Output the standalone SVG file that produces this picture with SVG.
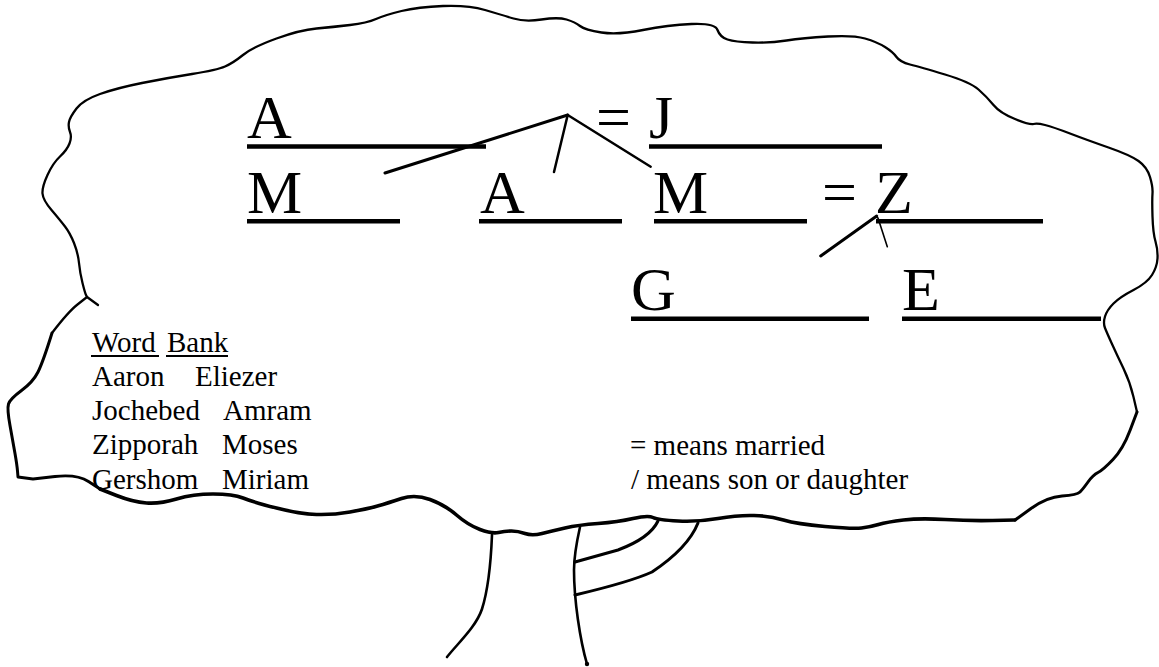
<svg xmlns="http://www.w3.org/2000/svg" width="1159" height="667" viewBox="0 0 1159 667">
  <style>
    .big { font-family: "Liberation Serif", "Times New Roman", serif; font-size: 62px; fill: #000; }
    .small { font-family: "Liberation Serif", "Times New Roman", serif; font-size: 29px; fill: #000; }
    .blank { stroke: #000; stroke-width: 4.4; fill: none; }
    .ink { stroke: #000; fill: none; stroke-linecap: round; stroke-linejoin: round; }
    .uline { stroke: #000; stroke-width: 1.8; }
  </style>
  <rect width="1159" height="667" fill="#fff"/>

  <!-- tree crown outline -->
  <g id="crown">
    <path class="ink" stroke-width="2.3" d="M52,333 Q68,312 77.5,304.5 L87,297 L86,295 Q85,293 82.5,283 Q80,273 79,263 Q78,253 74,243 Q70,233 65,226.5 Q60,220 51.5,210 Q43,200 42.5,193.5 Q42,187 47.5,175 Q53,163 60,156.5 Q67,150 69.5,143.5 Q72,137 70,132 Q68,127 69,122 Q70,117 76.5,108.5 Q83,100 100,94 Q117,88 142,83 Q167,78 192,74 Q217,70 225,66.5 Q233,63 243,55 Q253,47 276.5,38.5 Q300,30 316.5,28.5 Q333,27 350,25 Q367,23 376,19 Q385,15 401.5,11 Q418,7 443,6 Q468,5 485,10 Q502,15 513.5,18.5 Q525,22 541.5,19.5 Q558,17 566.5,19.5 Q575,22 580,26 Q585,30 601.5,32.5 Q618,35 643,30 Q668,25 691.5,24 Q715,23 717.5,30 Q720,37 727.5,39.5 Q735,42 752.5,42.5 Q770,43 786.5,40.5 Q803,38 828,36.5 Q853,35 865,38.5 Q877,42 885,47 Q893,52 896.5,57 Q900,62 910,64.5 Q920,67 945,74.5 Q970,82 978.5,89.5 Q987,97 993.5,105 Q1000,113 1015,119 Q1030,125 1033.5,124 Q1037,123 1045,125 Q1053,127 1070,133.5 Q1087,140 1108.5,147.5 Q1130,155 1138.5,161 Q1147,167 1150,177 Q1153,187 1152.5,193.5 Q1152,200 1152.5,216.5 Q1153,233 1155.5,241.5 Q1158,250 1157.5,258.5 Q1157,267 1152,275 Q1147,283 1133.5,290 Q1120,297 1113.5,303.5 Q1107,310 1105,316.5 Q1103,323 1105,328 Q1107,333 1112,344 Q1117,355 1123.5,368.5 Q1130,382 1133.5,397 L1137,412"/>
    <path class="ink" stroke-width="2.3" d="M87,297 L98,305"/>
    <path class="ink" stroke-width="3" d="M52,333 Q43,362 38,372 Q33,382 21.5,390.5 Q10,399 8.5,404 Q7,409 10,425.5 Q13,442 15,453.5 Q17,465 17.5,471 L18,477 L33,479 L55,476.5 Q77,474 88.5,481.5 L100,489"/>
    <path class="ink" stroke-width="3.6" d="M100,489 L116.5,495.5 Q133,502 146.5,503 Q160,504 176.5,499 Q193,494 213,494 Q233,494 243,498 Q253,502 276.5,508 Q300,514 316.5,514.5 Q333,515 350,512 Q367,509 377.5,506 Q388,503 401.5,498.5 Q415,494 430,499.5 Q445,505 456.5,515 Q468,525 480,529.5 Q492,534 498.5,532.5 Q505,531 511.5,531 Q518,531 525,533.5 Q532,536 542,533.5 Q552,531 565,528 Q578,525 598,523.5 Q618,522 633,518.5 Q648,515 653,517.5 Q658,520 678,521 Q698,522 718,518.5 Q738,515 754,515.5 Q770,516 783.5,520 Q797,524 825,526.5 Q853,529 861.5,528 Q870,527 878.5,524.5 Q887,522 903.5,520 Q920,518 945,519.5 Q970,521 992.5,520.5 L1015,520"/>
    <path class="ink" stroke-width="3" d="M1015,520 L1031,508.5 Q1047,497 1062,496 Q1077,495 1080,492 Q1083,489 1088,482 Q1093,475 1098,472.5 Q1103,470 1113,459.5 Q1123,449 1130,430.5 L1137,412"/>
  </g>

  <!-- trunk and limbs -->
  <g id="trunk">
    <path class="ink" stroke-width="2.6" d="M492,535 C491,560 488,590 482,609 C476,627 458,643 447,657"/>
    <path class="ink" stroke-width="2.6" d="M580,527 C576,545 574,555 574,570 C574,600 580,640 587,664"/>
    <circle cx="587" cy="664" r="2.2" fill="#000"/>
    <path class="ink" stroke-width="3" d="M658,521 Q650,538 618,550 L575,562"/>
    <path class="ink" stroke-width="3" d="M698,523 Q688,548 652,572 Q630,582 575,595"/>
  </g>

  <!-- generation 1 -->
  <g id="node-amram">
    <text class="big" x="247" y="138">A</text>
    <line class="blank" x1="247" y1="146.5" x2="486" y2="146.5"/>
  </g>
  <g id="node-jochebed">
    <text class="big" x="596" y="138">=</text>
    <text class="big" x="649" y="138">J</text>
    <line class="blank" x1="649" y1="146.5" x2="882" y2="146.5"/>
  </g>

  <!-- generation 2 -->
  <g id="node-miriam">
    <text class="big" x="247" y="213">M</text>
    <line class="blank" x1="247" y1="221.3" x2="400" y2="221.3"/>
  </g>
  <g id="node-aaron">
    <text class="big" x="480" y="213">A</text>
    <line class="blank" x1="479" y1="221.3" x2="622" y2="221.3"/>
  </g>
  <g id="node-moses">
    <text class="big" x="653" y="213">M</text>
    <line class="blank" x1="654" y1="221.3" x2="807" y2="221.3"/>
  </g>
  <g id="node-zipporah">
    <text class="big" x="822" y="213">=</text>
    <text class="big" x="875" y="213">Z</text>
    <line class="blank" x1="876" y1="221.3" x2="1043" y2="221.3"/>
  </g>

  <!-- generation 3 -->
  <g id="node-gershom">
    <text class="big" x="631" y="310">G</text>
    <line class="blank" x1="631" y1="318.7" x2="869" y2="318.7"/>
  </g>
  <g id="node-eliezer">
    <text class="big" x="902" y="310">E</text>
    <line class="blank" x1="902" y1="318.7" x2="1101" y2="318.7"/>
  </g>

  <!-- descent strokes -->
  <g id="connectors">
    <line class="ink" stroke-width="3" x1="567.7" y1="115" x2="385" y2="173"/>
    <line class="ink" stroke-width="2.5" x1="567.7" y1="115" x2="554" y2="172"/>
    <line class="ink" stroke-width="2.5" x1="567.7" y1="115" x2="650.7" y2="166.7"/>
    <line class="ink" stroke-width="3" x1="876.7" y1="216" x2="820.7" y2="256"/>
    <path class="ink" stroke-width="1.6" d="M875.5,216.5 L878,218 L887.3,246.7"/>
  </g>

  <!-- word bank -->
  <g id="word-bank">
    <text class="small" x="92" y="352">Word</text>
    <line class="uline" x1="91" y1="356" x2="159" y2="356"/>
    <text class="small" x="167" y="352">Bank</text>
    <line class="uline" x1="166" y1="356" x2="228" y2="356"/>
    <text class="small" x="92" y="385.5">Aaron</text>
    <text class="small" x="195" y="385.5">Eliezer</text>
    <text class="small" x="92" y="420">Jochebed</text>
    <text class="small" x="223" y="420">Amram</text>
    <text class="small" x="92" y="454.3">Zipporah</text>
    <text class="small" x="222" y="454.3">Moses</text>
    <text class="small" x="92" y="488.7">Gershom</text>
    <text class="small" x="222" y="488.7">Miriam</text>
  </g>

  <!-- key -->
  <g id="key">
    <text class="small" x="630" y="454.5">= means married</text>
    <text class="small" x="631" y="489">/ means son or daughter</text>
  </g>
</svg>
